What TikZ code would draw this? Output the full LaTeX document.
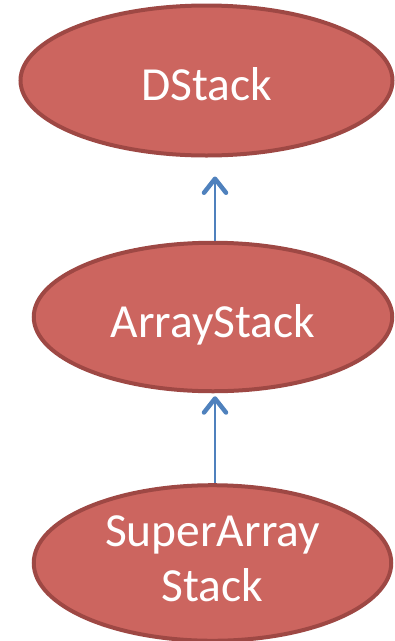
\documentclass[tikz,border=0pt]{standalone}
\usepackage{fontspec}
\setmainfont{Carlito}
\usetikzlibrary{shapes.geometric,arrows.meta}
\definecolor{ellfill}{RGB}{204,101,95}
\definecolor{elldraw}{RGB}{158,72,68}
\definecolor{arrblue}{RGB}{79,129,189}
\begin{document}
\begin{tikzpicture}[x=1pt,y=-1pt,
  cls/.style={ellipse, draw=elldraw, fill=ellfill, line width=4pt, inner sep=0pt,
    text=white, font=\fontsize{47.5}{55}\selectfont},
  oneline/.style={text height=45pt, text depth=5pt},
  inherit/.style={draw=arrblue, line width=2pt,
    -{Straight Barb[length=14pt,width=22pt,line width=4.5pt,round]}}]
\useasboundingbox (0,0) rectangle (395,641);
\node[cls, oneline, minimum width=372pt, minimum height=150pt] (a) at (206.5,80.5) {DStack};
\node[cls, oneline, minimum width=358.5pt, minimum height=148.5pt] (b) at (213,317) {ArrayStack};
\node[cls, minimum width=357.5pt, minimum height=146.5pt] (c) at (212.5,563)
  {\raisebox{-8.5pt}{\begin{tabular}{@{}c@{}}SuperArray\\Stack\end{tabular}}};
\draw[inherit] ([xshift=2pt]b.north) -- ([xshift=8.5pt,yshift=-19pt]a.south);
\draw[inherit] ([xshift=2.5pt]c.north) -- ([xshift=2pt,yshift=-3pt]b.south);
\end{tikzpicture}
\end{document}
